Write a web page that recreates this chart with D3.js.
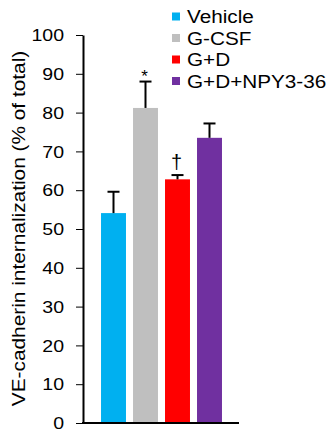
<!DOCTYPE html>
<html>
<head>
<meta charset="utf-8">
<script src="https://cdn.jsdelivr.net/npm/d3@7"></script>
<style>
  body { margin: 0; background: #fff; }
  text { font-family: "Liberation Sans", Arial, sans-serif; fill: #000; }
</style>
</head>
<body>
<div id="chart"></div>
<script>
// data
const groups = ['Vehicle', 'G-CSF', 'G+D', 'G+D+NPY3-36'];
const values = [54.1, 81.2, 62.8, 73.5];
const errors = [5.5, 6.8, 1.1, 3.7];
const marks = ['', '*', '\u2020', ''];
const colors = ['#00b0f0', '#bfbfbf', '#ff0000', '#7030a0'];
const yTicks = [0, 10, 20, 30, 40, 50, 60, 70, 80, 90, 100];

const width = 333, height = 432;
const svg = d3.select('#chart').append('svg')
    .attr('width', width)
    .attr('height', height);

// the source font renders wider than Arial, stretch texts a bit
function widen(sel, k) {
    sel.each(function() {
        const len = this.getComputedTextLength();
        d3.select(this)
            .attr('textLength', len * k)
            .attr('lengthAdjust', 'spacingAndGlyphs');
    });
}

const y = d3.scaleLinear().domain([0, 100]).range([423, 35]);
const x = d3.scaleBand()
    .domain(groups)
    .range([97.5, 225.5])
    .paddingInner(0.22)
    .paddingOuter(0.11);

// bars
svg.append('g')
    .selectAll('rect')
    .data(groups)
    .enter().append('rect')
        .attr('x', d => x(d))
        .attr('width', x.bandwidth())
        .attr('y', (d, i) => y(values[i]))
        .attr('height', (d, i) => y(0) - y(values[i]))
        .style('fill', (d, i) => colors[i]);

// error bars (upper only)
const err = svg.append('g').style('stroke', '#000').style('stroke-width', '2px');
groups.forEach(function(g, i) {
    const cx = x(g) + x.bandwidth() / 2;
    err.append('line')
        .attr('x1', cx).attr('x2', cx)
        .attr('y1', y(values[i])).attr('y2', y(values[i] + errors[i]));
    err.append('line')
        .attr('x1', cx - 6).attr('x2', cx + 6)
        .attr('y1', y(values[i] + errors[i])).attr('y2', y(values[i] + errors[i]));
});

// significance marks
svg.append('g')
    .selectAll('text')
    .data(groups)
    .enter().append('text')
        .attr('x', d => x(d) + x.bandwidth() / 2 - 1)
        .attr('y', (d, i) => y(values[i] + errors[i]) - (marks[i] === '*' ? 0 : 6))
        .attr('text-anchor', 'middle')
        .style('font-size', (d, i) => marks[i] === '*' ? '17px' : '20px')
        .text((d, i) => marks[i]);

// y axis
const yAxis = svg.append('g')
    .attr('transform', 'translate(83,0)')
    .call(d3.axisLeft(y).tickValues(yTicks).tickSize(7).tickSizeOuter(0).tickPadding(12));
yAxis.select('.domain').style('stroke', '#000').style('stroke-width', '2px');
yAxis.selectAll('.tick line').style('stroke', '#000').style('stroke-width', '1px');
yAxis.selectAll('.tick text')
    .style('font-size', '16px')
    .style('font-family', '"Liberation Sans", Arial, sans-serif')
    .attr('dy', '0.36em')
    .call(widen, 1.22);

// x axis line
svg.append('line')
    .attr('x1', 82).attr('x2', 239)
    .attr('y1', y(0)).attr('y2', y(0))
    .style('stroke', '#000')
    .style('stroke-width', '2px');

// y axis title
svg.append('text')
    .attr('transform', 'translate(25,228.5) rotate(-90)')
    .attr('text-anchor', 'middle')
    .style('font-size', '17.5px')
    .text('VE-cadherin internalization (% of total)')
    .call(widen, 1.19);

// legend
const legend = svg.append('g')
    .selectAll('g')
    .data(groups)
    .enter().append('g')
        .attr('transform', (d, i) => 'translate(172,' + (16.5 + i * 21.5) + ')');
legend.append('rect')
    .attr('x', 0).attr('y', -4)
    .attr('width', 8).attr('height', 8)
    .style('fill', (d, i) => colors[i]);
legend.append('text')
    .attr('x', 15)
    .attr('y', 6.5)
    .style('font-size', '18px')
    .text(d => d)
    .call(widen, 1.15);
</script>
</body>
</html>
